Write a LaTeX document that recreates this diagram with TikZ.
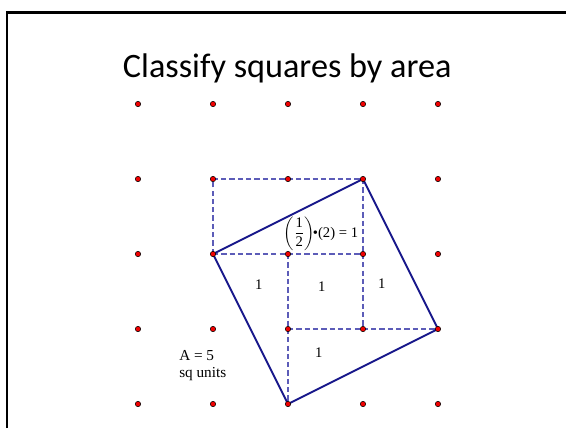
\documentclass[tikz,border=0pt]{standalone}
\usepackage{amsmath}
\usepackage{fontspec}
\setmainfont{Liberation Serif}
\newfontfamily\titlefont{Carlito}
\definecolor{sqnavy}{HTML}{16168A}
\definecolor{sqguide}{HTML}{5C5CB8}
\definecolor{dotred}{HTML}{F00000}

\begin{document}
\begin{tikzpicture}[x=2.25cm, y=2.25cm,
    gdot/.style={circle, draw=black, fill=dotred, line width=0.45pt, inner sep=0pt, minimum size=4.6pt},
    side/.style={draw=sqnavy, line width=1.6pt, line join=round},
    guide/.style={draw=sqguide, line width=1.1pt, dash pattern=on 4.5pt off 2.6pt},
    lbl/.style={font=\fontsize{12.5}{14}\selectfont, inner sep=0pt},
    note/.style={font=\fontsize{13}{14.5}\selectfont, inner sep=0pt, align=left}
  ]
    \useasboundingbox (-1.84,-0.32) rectangle (5.707,5.387);
    % slide frame
    \coordinate (fbl) at (-1.747,-0.32);
    \coordinate (ftl) at (-1.747,5.22);
    \coordinate (ftr) at (5.707,5.22);
    \draw[line width=2pt] (fbl) -- (ftl) -- (ftr);

    \node[font=\titlefont\fontsize{29.2}{33}\selectfont, inner sep=0pt, anchor=base]
      (title) at (1.99,4.347) {Classify squares by area};

    \foreach \i in {0,...,4}
      \foreach \j in {0,...,4}
        \coordinate (c\i\j) at (\i,\j);

    % unit squares and triangle boxes
    \draw[guide] (c12) -- (c13) -- (c33);
    \draw[guide] (c12) -- (c32);
    \draw[guide] (c33) -- (c31);
    \draw[guide] (c21) -- (c41);
    \draw[guide] (c22) -- (c20);

    % tilted square
    \draw[side] (c12) -- (c33) -- (c41) -- (c20) -- cycle;

    \foreach \i in {0,...,4}
      \foreach \j in {0,...,4}
        \node[gdot] (p\i\j) at (c\i\j) {};

    \node[lbl] (half) at (2.44,2.27) {$\left(\dfrac{\text{1}}{\text{2}}\right)$\hspace{-1.5pt}•(2) = 1};
    \node[lbl] (oneL) at (1.61,1.59) {1};
    \node[lbl] (oneM) at (2.45,1.56) {1};
    \node[lbl] (oneR) at (3.25,1.60) {1};
    \node[lbl] (oneB) at (2.41,0.69) {1};
    \node[note, anchor=west] (area) at (0.547,0.507) {A = 5\\sq units};
  \end{tikzpicture}
\end{document}
